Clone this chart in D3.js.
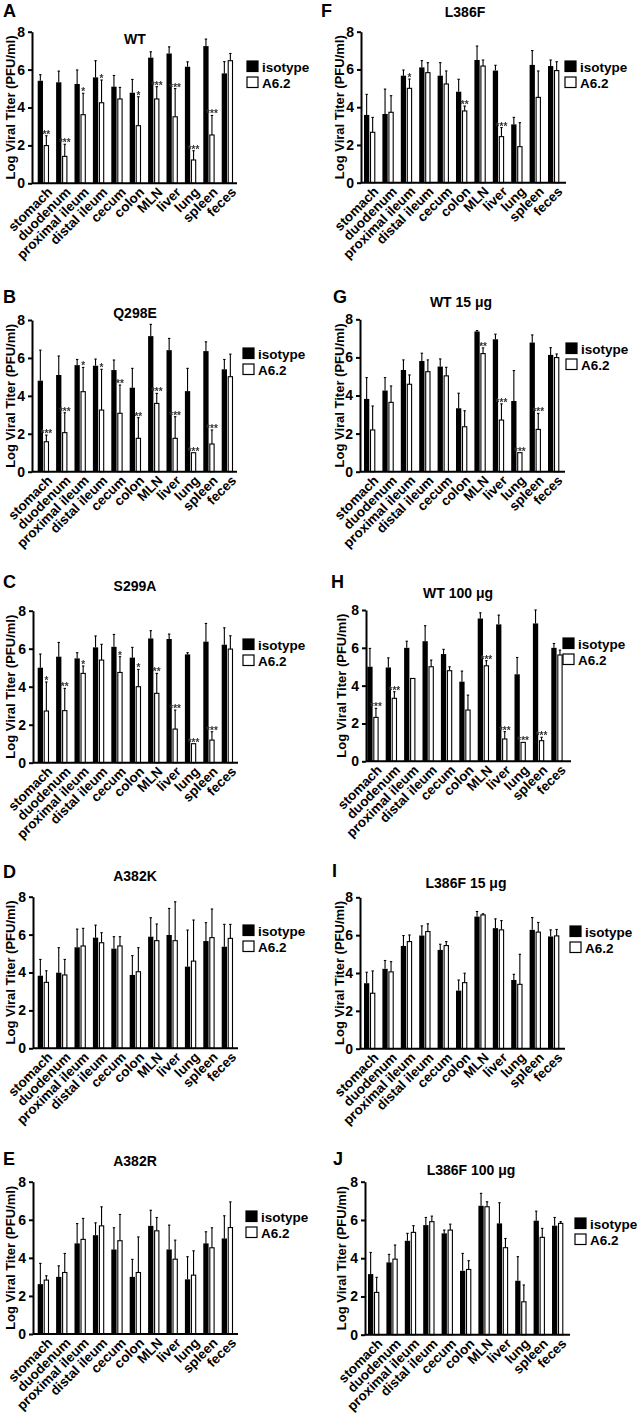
<!DOCTYPE html>
<html><head><meta charset="utf-8">
<script src="https://cdn.jsdelivr.net/npm/d3@7"></script>
<style>
body{margin:0;background:#fff;}
svg{display:block;font-family:"Liberation Sans",Arial,sans-serif;font-weight:bold;}
text.sig{filter:grayscale(1);}
</style>
</head><body>
<svg id="chart" width="637" height="1417"></svg>
<script>
const categories = ["stomach","duodenum","proximal ileum","distal ileum","cecum","colon","MLN","liver","lung","spleen","feces"];
const seriesNames = ["isotype","A6.2"];
const yTicks = [0,2,4,6,8];
const panelLetters = ["A","F","B","G","C","H","D","I","E","J"];
const panelTitles = {A:"WT",F:"L386F",B:"Q298E",G:"WT 15 μg",C:"S299A",H:"WT 100 μg",D:"A382K",I:"L386F 15 μg",E:"A382R",J:"L386F 100 μg"};

// Panel A (WT)
const isoA    = [5.41,5.33,5.24,5.59,5.10,4.78,6.63,6.85,6.15,7.24,5.80];
const isoErrA = [0.32,0.59,0.74,0.88,0.59,0.70,0.31,0.35,0.26,0.37,0.62];
const a62A    = [1.99,1.42,3.62,4.25,4.45,3.04,4.45,3.51,1.23,2.55,6.47];
const a62ErrA = [0.52,0.64,1.13,1.20,0.61,1.53,0.65,1.49,0.49,1.03,0.38];
const sigA    = ["**","***","*","*","","*","***","***","***","***",""];
// Panel F (L386F)
const isoF    = [3.59,3.64,5.67,6.11,5.67,4.82,6.50,5.94,3.09,6.24,6.18];
const isoErrF = [1.09,1.32,0.30,0.36,0.69,0.66,0.74,0.28,0.37,0.76,0.32];
const a62F    = [2.67,3.73,5.00,5.83,5.23,3.80,6.18,2.44,1.91,4.52,5.94];
const a62ErrF = [0.79,0.88,0.49,0.53,0.69,0.26,0.32,0.48,1.27,1.40,0.47];
const sigF    = ["","","*","","","**","","***","","",""];
// Panel B (Q298E)
const isoB    = [4.80,5.10,5.62,5.59,5.36,4.43,7.15,6.41,4.25,6.36,5.40];
const isoErrB = [1.61,1.00,0.30,0.35,0.53,1.02,0.62,0.62,1.20,0.49,0.52];
const a62B    = [1.58,2.06,4.22,3.25,3.08,1.76,3.60,1.76,1.00,1.46,5.01];
const a62ErrB = [0.35,1.05,1.28,2.15,1.49,1.09,0.53,1.14,0.00,0.74,1.19];
const sigB    = ["***","***","*","*","**","**","***","***","***","***",""];
// Panel G (WT 15 ug)
const isoG    = [3.82,4.26,5.34,5.81,5.52,3.33,7.36,6.95,3.71,6.78,6.13];
const isoErrG = [1.12,0.68,0.53,0.41,0.40,0.79,0.05,0.27,1.60,0.40,0.38];
const a62G    = [2.19,3.64,4.59,5.25,5.03,2.36,6.20,2.71,1.00,2.22,5.99];
const a62ErrG = [1.26,0.86,0.49,0.62,0.45,0.84,0.30,0.85,0.00,0.84,0.19];
const sigG    = ["","","","","","","**","***","***","***",""];
// Panel C (S299A)
const isoC    = [5.00,5.58,5.49,6.07,6.10,5.53,6.54,6.51,5.70,6.37,6.21];
const isoErrC = [0.72,0.75,0.30,0.60,0.65,0.54,0.41,0.26,0.09,0.96,0.89];
const a62C    = [2.72,2.74,4.70,5.40,4.75,4.00,3.65,1.77,1.00,1.19,5.98];
const a62ErrC = [1.53,1.17,0.39,0.83,0.83,0.91,1.05,1.00,0.00,0.44,0.70];
const sigC    = ["*","**","*","","*","*","**","***","***","***",""];
// Panel H (WT 100 ug)
const isoH    = [5.00,4.96,6.00,6.35,5.67,4.21,7.55,7.24,4.60,7.29,6.00];
const isoErrH = [0.97,0.51,0.35,0.82,0.25,0.56,0.30,0.49,0.89,0.71,0.23];
const a62H    = [2.32,3.33,4.38,5.00,4.79,2.71,5.05,1.18,1.00,1.09,5.62];
const a62ErrH = [0.48,0.35,0.00,0.35,0.21,0.79,0.27,0.39,0.00,0.18,0.26];
const sigH    = ["***","***","","","","","***","***","***","***",""];
// Panel D (A382K)
const isoD    = [3.83,3.99,5.33,5.84,5.26,3.87,5.89,5.98,4.31,5.66,5.36];
const isoErrD = [0.86,1.32,0.96,0.66,0.63,1.02,1.00,1.40,1.93,0.97,1.18];
const a62D    = [3.48,3.87,5.40,5.57,5.40,4.04,5.68,5.68,4.60,5.84,5.80];
const a62ErrD = [0.61,0.82,0.93,0.53,0.49,1.27,0.88,2.05,2.17,1.51,0.74];
const sigD    = ["","","","","","","","","","",""];
// Panel I (L386F 15 ug)
const isoI    = [3.46,4.22,5.43,5.98,5.22,3.07,6.98,6.37,3.63,6.28,5.93];
const isoErrI = [0.58,0.44,0.55,0.51,0.30,0.56,0.27,0.49,0.30,0.65,0.35];
const a62I    = [2.93,4.06,5.66,6.19,5.45,3.49,7.07,6.28,3.40,6.16,5.96];
const a62ErrI = [1.18,0.54,0.35,0.41,0.21,0.50,0.06,0.49,1.59,0.51,0.34];
const sigI    = ["","","","","","","","","","",""];
// Panel E (A382R)
const isoE    = [2.62,3.00,4.76,5.19,4.44,3.00,5.68,4.44,2.87,4.76,5.02];
const isoErrE = [1.09,0.58,1.04,0.65,1.14,0.92,0.82,1.28,1.19,0.61,1.19];
const a62E    = [2.83,3.23,4.97,5.68,4.90,3.23,5.42,3.93,3.09,4.53,5.59];
const a62ErrE = [0.23,1.00,1.10,1.00,1.38,1.87,0.70,1.00,1.28,1.05,1.35];
const sigE    = ["","","","","","","","","","",""];
// Panel J (L386F 100 ug)
const isoJ    = [3.17,3.78,4.91,5.73,5.30,3.34,6.74,5.82,2.82,5.96,5.70];
const isoErrJ = [1.13,0.42,0.39,0.40,0.17,0.91,0.65,1.08,1.26,0.50,0.43];
const a62J    = [2.21,3.95,5.35,5.91,5.47,3.41,6.69,4.55,1.72,5.09,5.82];
const a62ErrJ = [0.79,0.74,0.35,0.29,0.31,0.46,0.26,0.48,0.88,0.47,0.09];
const sigJ    = ["","","","","","","","","","",""];

const panelData = {
  A:{iso:isoA,isoErr:isoErrA,a62:a62A,a62Err:a62ErrA,sig:sigA},
  F:{iso:isoF,isoErr:isoErrF,a62:a62F,a62Err:a62ErrF,sig:sigF},
  B:{iso:isoB,isoErr:isoErrB,a62:a62B,a62Err:a62ErrB,sig:sigB},
  G:{iso:isoG,isoErr:isoErrG,a62:a62G,a62Err:a62ErrG,sig:sigG},
  C:{iso:isoC,isoErr:isoErrC,a62:a62C,a62Err:a62ErrC,sig:sigC},
  H:{iso:isoH,isoErr:isoErrH,a62:a62H,a62Err:a62ErrH,sig:sigH},
  D:{iso:isoD,isoErr:isoErrD,a62:a62D,a62Err:a62ErrD,sig:sigD},
  I:{iso:isoI,isoErr:isoErrI,a62:a62I,a62Err:a62ErrI,sig:sigI},
  E:{iso:isoE,isoErr:isoErrE,a62:a62E,a62Err:a62ErrE,sig:sigE},
  J:{iso:isoJ,isoErr:isoErrJ,a62:a62J,a62Err:a62ErrJ,sig:sigJ}
};

// layout (pixel geometry of each panel)
const layout = {
  A:{ox:32, y8:31.7,  y0:183.3, bx:37.7, lx:3,   ly:17,   tx:135, ty:44,   legX:262, legY:61,   labX:15},
  F:{ox:361,y8:31.7,  y0:182.7, bx:364,  lx:321, ly:17,   tx:465, ty:17,   legX:580, legY:61,   labX:344},
  B:{ox:32, y8:320,   y0:471.7, bx:37.7, lx:3,   ly:303,  tx:135, ty:318,  legX:258, legY:348,  labX:15},
  G:{ox:360,y8:319.3, y0:471.7, bx:364,  lx:333, ly:303,  tx:461, ty:307,  legX:581, legY:343,  labX:344},
  C:{ox:33, y8:610.7, y0:762.7, bx:37.7, lx:3,   ly:588,  tx:135, ty:591,  legX:258, legY:639,  labX:15},
  H:{ox:366,y8:610,   y0:761.3, bx:367.3,lx:331, ly:588,  tx:458, ty:598,  legX:578, legY:638,  labX:346},
  D:{ox:33, y8:896.7, y0:1048.3,bx:37.7, lx:3,   ly:878,  tx:135, ty:881,  legX:258, legY:925,  labX:15},
  I:{ox:360,y8:897.3, y0:1048.7,bx:364,  lx:332, ly:877,  tx:466, ty:888,  legX:585, legY:926,  labX:344},
  E:{ox:33, y8:1181.7,y0:1334,  bx:37.7, lx:3,   ly:1165, tx:135, ty:1166, legX:261, legY:1211, labX:15},
  J:{ox:365,y8:1181.7,y0:1334.7,bx:368,  lx:333, ly:1165, tx:471, ty:1175, legX:590, legY:1218, labX:346}
};

const svg = d3.select("#chart");
const step = 18.4, pIn = 0.386;

panelLetters.forEach(key => {
  const L = layout[key], D = panelData[key];
  const g = svg.append("g");
  const y = d3.scaleLinear().domain([0,8]).range([L.y0, L.y8]);
  const x = d3.scaleBand().domain(categories)
    .range([L.bx, L.bx + categories.length*step - pIn*step])
    .paddingInner(pIn).paddingOuter(0);
  const xs = d3.scaleBand().domain(seriesNames).range([0, x.bandwidth()]).paddingInner(0.12);

  const rows = categories.map((c,i)=>({c, vals:[
    {s:"isotype", v:D.iso[i], e:D.isoErr[i]},
    {s:"A6.2", v:D.a62[i], e:D.a62Err[i], sig:D.sig[i]}
  ]}));

  const grp = g.selectAll("g.grp").data(rows).join("g").attr("class","grp")
    .attr("transform", d=>`translate(${x(d.c)},0)`);
  const item = grp.selectAll("g.it").data(d=>d.vals).join("g").attr("class","it");
  item.filter(d=>d.e>0).append("line")
    .attr("x1", d=>xs(d.s)+xs.bandwidth()/2).attr("x2", d=>xs(d.s)+xs.bandwidth()/2)
    .attr("y1", d=>y(d.v)).attr("y2", d=>y(d.v+d.e))
    .attr("stroke","#000").attr("stroke-width",1.1);
  item.filter(d=>d.e>0).append("line")
    .attr("x1", d=>xs(d.s)+xs.bandwidth()/2-1.2).attr("x2", d=>xs(d.s)+xs.bandwidth()/2+1.2)
    .attr("y1", d=>y(d.v+d.e)).attr("y2", d=>y(d.v+d.e))
    .attr("stroke","#000").attr("stroke-width",1.1);
  item.append("rect")
    .attr("x", d=>xs(d.s)+(d.s==="A6.2"?0.5:0)).attr("width", d=>xs.bandwidth()-(d.s==="A6.2"?1:0))
    .attr("y", d=>y(d.v)).attr("height", d=>y(0)-y(d.v))
    .attr("fill", d=>d.s==="isotype"?"#000":"#fff")
    .attr("stroke","#000").attr("stroke-width", d=>d.s==="isotype"?0:1.1);
  item.filter(d=>d.sig).append("text").attr("class","sig")
    .attr("x", d=>xs(d.s)+xs.bandwidth()/2)
    .attr("y", d=>y(d.v+d.e)+2)
    .attr("text-anchor","middle").attr("font-size",10).attr("fill","#333")
    .text(d=>d.sig);

  // y axis
  const ya = g.append("g").attr("transform",`translate(${L.ox},0)`)
    .call(d3.axisLeft(y).tickValues(yTicks).tickSize(4).tickSizeOuter(0).tickPadding(3));
  ya.select(".domain").attr("stroke","#000").attr("stroke-width",2);
  ya.selectAll(".tick line").attr("stroke","#000").attr("stroke-width",2);
  ya.selectAll(".tick text").attr("font-size",14).attr("font-weight","bold")
    .attr("font-family","'Liberation Sans',Arial,sans-serif").attr("fill","#000");

  // x axis
  const xa = g.append("g").attr("transform",`translate(0,${L.y0})`)
    .call(d3.axisBottom(x).tickSize(0).tickSizeOuter(0));
  xa.select(".domain").attr("d",`M${L.ox},0H${L.ox+205}`).attr("stroke","#000").attr("stroke-width",2);
  xa.selectAll(".tick text")
    .attr("font-size",13.5).attr("font-weight","bold")
    .attr("font-family","'Liberation Sans',Arial,sans-serif").attr("fill","#000")
    .attr("text-anchor","end").attr("y",0).attr("dy","0.7em")
    .attr("transform","translate(3,3) rotate(-45)");

  // y label
  g.append("text")
    .attr("transform",`translate(${L.labX},${(L.y0+L.y8)/2}) rotate(-90)`)
    .attr("text-anchor","middle").attr("font-size",13).text("Log Viral Titer (PFU/ml)");

  // title and letter
  g.append("text").attr("x",L.tx).attr("y",L.ty).attr("text-anchor","middle")
    .attr("font-size",14).text(panelTitles[key]);
  g.append("text").attr("x",L.lx).attr("y",L.ly).attr("font-size",18).text(key);

  // legend
  const leg = g.append("g");
  seriesNames.forEach((s,i)=>{
    leg.append("rect").attr("x",L.legX-15).attr("y",L.legY+i*16)
      .attr("width",11).attr("height",10.5)
      .attr("fill", i===0?"#000":"#fff").attr("stroke","#000").attr("stroke-width",1.2);
    leg.append("text").attr("x",L.legX).attr("y",L.legY+i*16+10.5)
      .attr("font-size",13.5).text(s);
  });
});
</script>
</body></html>
